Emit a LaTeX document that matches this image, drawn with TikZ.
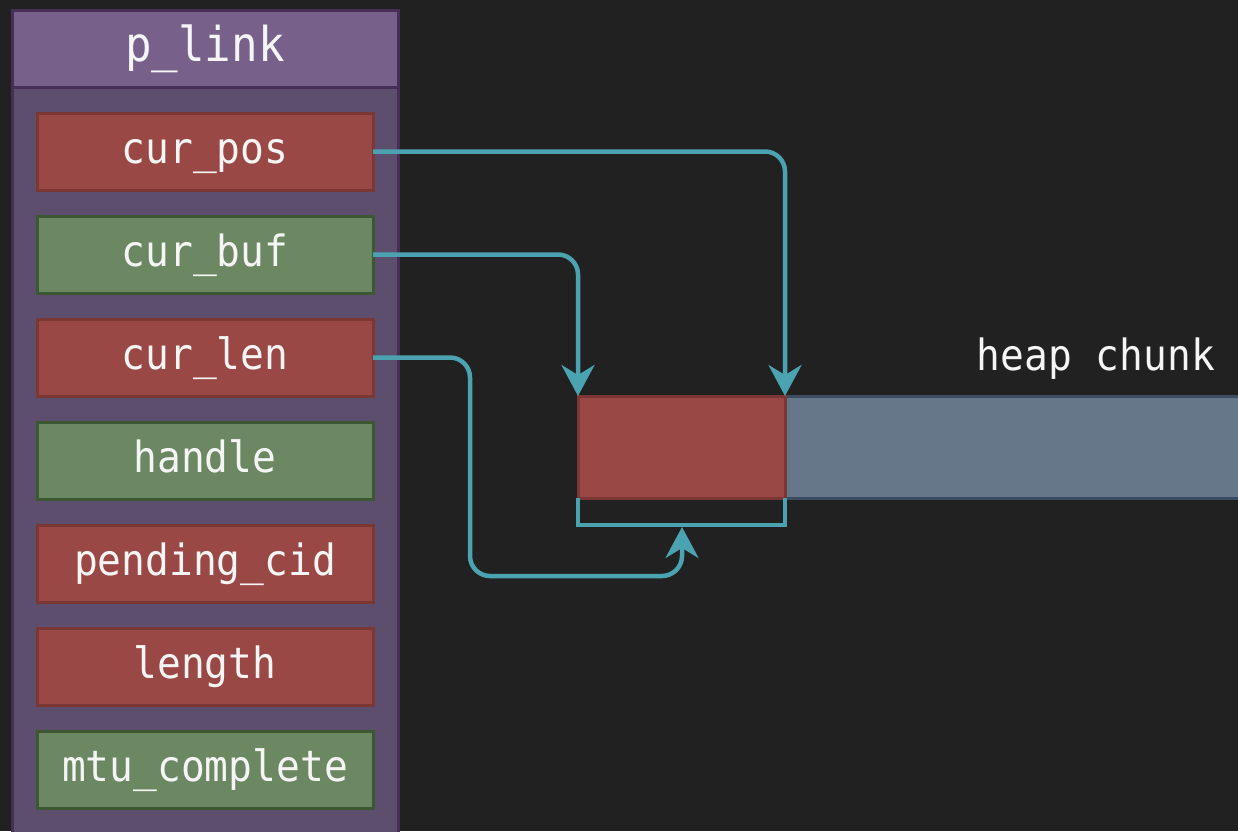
\documentclass[tikz,border=0pt]{standalone}
\usepackage{fontspec}
\newfontfamily\codefont[FakeStretch=0.92]{DejaVu Sans Mono}
\usetikzlibrary{arrows.meta}
\definecolor{bgc}{RGB}{33,33,33}
\definecolor{hdrfill}{RGB}{119,96,138}
\definecolor{bodyfill}{RGB}{94,78,110}
\definecolor{boxborder}{RGB}{70,46,86}
\definecolor{redfill}{RGB}{154,72,69}
\definecolor{redborder}{RGB}{122,55,52}
\definecolor{greenfill}{RGB}{107,136,98}
\definecolor{greenborder}{RGB}{60,88,50}
\definecolor{bluefill}{RGB}{101,119,137}
\definecolor{blueborder}{RGB}{60,76,96}
\definecolor{linkc}{RGB}{75,163,178}
\definecolor{txt}{RGB}{245,245,245}
\tikzset{
  every node/.style={outer sep=0pt, inner sep=0pt},
  field/.style={minimum width=336pt, minimum height=77pt, line width=3pt,
    text=txt, font=\codefont\fontsize{43}{50}\selectfont, text height=23.4pt, text depth=0pt},
  redfield/.style={field, fill=redfill, draw=redborder},
  greenfield/.style={field, fill=greenfill, draw=greenborder},
  link/.style={draw=linkc, line width=4.5pt, rounded corners=20pt,
    -{Stealth[length=31pt,width=33pt,inset=10pt]}},
  bracketline/.style={draw=linkc, line width=4.5pt},
}
\begin{document}
\begin{tikzpicture}[x=1pt,y=-1pt]
\useasboundingbox (0,0) rectangle (1238,831);
\clip (0,0) rectangle (1238,831);
\fill[bgc] (0,0) rectangle (1238,831);
% container
\node[draw=boxborder, fill=bodyfill, line width=3pt, minimum width=386pt, minimum height=770pt, anchor=north west] (body) at (12,87) {};
\node[draw=boxborder, fill=hdrfill, line width=3pt, minimum width=386pt, minimum height=77pt, anchor=north west, text=txt, font=\codefont\fontsize{48}{56}\selectfont, text height=26pt, text depth=0pt] (hdr) at (12,10) {p\_link};
% fields
\node[redfield] (curpos) at (205,151.5) {cur\_pos};
\node[greenfield] (curbuf) at (205,254.5) {cur\_buf};
\node[redfield] (curlen) at (205,357.5) {cur\_len};
\node[greenfield] (handle) at (205,460.5) {handle};
\node[redfield] (pending) at (205,563.5) {pending\_cid};
\node[redfield] (length) at (205,666.5) {length};
\node[greenfield] (mtu) at (205,769.5) {mtu\_complete};
% heap chunk
\node[fill=bluefill, draw=blueborder, line width=3pt, minimum width=470pt, minimum height=102pt, anchor=north west] (heap) at (785,396) {};
\node[fill=redfill, draw=redborder, line width=3pt, minimum width=207pt, minimum height=102pt, anchor=north west] (chunk) at (578,396) {};
\node[anchor=base east, text=txt, font=\codefont\fontsize{43}{50}\selectfont] (heaplbl) at (1215,370) {heap chunk};
% bracket under chunk
\coordinate (bl) at (578,525);
\coordinate (brr) at (785,525);
\coordinate (bmid) at (682,527);
\draw[bracketline] (chunk.south west) -- (bl) -- (brr) -- (chunk.south east);
% arrows
\coordinate (turn) at (470,576);
\draw[link] (curpos.east) -| (chunk.north east);
\draw[link] (curbuf.east) -| (chunk.north west);
\draw[link] (curlen.east) -| (turn) -| (bmid);
\end{tikzpicture}
\end{document}
